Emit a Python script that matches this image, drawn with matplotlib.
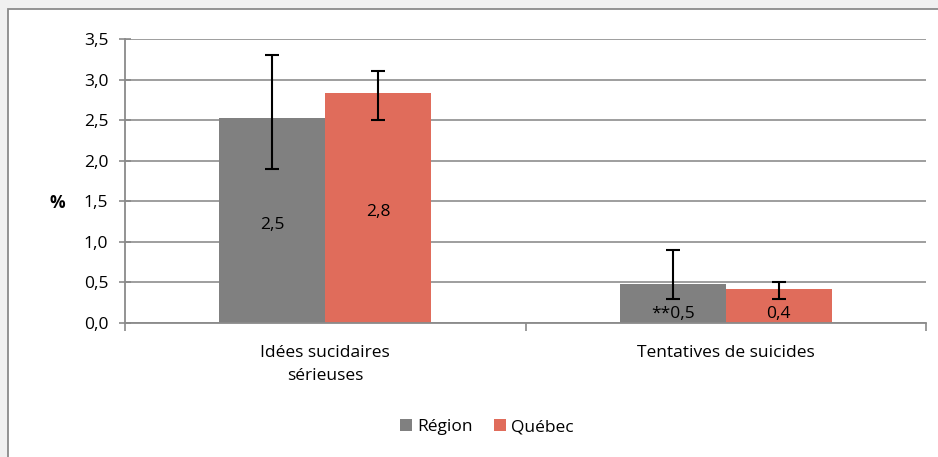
import matplotlib.pyplot as plt
import matplotlib.patches as mpatches
import numpy as np

categories = ["Idées sucidaires\nsérieuses", "Tentatives de suicides"]
series_names = ["Région", "Québec"]
region_vals = [2.53, 0.48]
quebec_vals = [2.84, 0.42]
region_labels = ["2,5", "**0,5"]
quebec_labels = ["2,8", "0,4"]
region_low = [1.9, 0.3]
region_high = [3.3, 0.9]
quebec_low = [2.5, 0.3]
quebec_high = [3.1, 0.5]
yticks = [0.0, 0.5, 1.0, 1.5, 2.0, 2.5, 3.0, 3.5]

colors = ["#808080", "#e06c5b"]
fs = 12.5

plt.rcParams['font.family'] = ['Open Sans', 'DejaVu Sans']

fig = plt.figure(figsize=(9.38, 4.57), dpi=100)
fig.patch.set_facecolor("#f0f0f0")

# outer frame of the chart area
frame = mpatches.Rectangle((8 / 938, -0.1), 1.2, 1.1 - 9 / 457,
                           transform=fig.transFigure, facecolor="white",
                           edgecolor="#8a8a8a", linewidth=1.3, zorder=-5)
fig.patches.append(frame)

ax = fig.add_axes([125 / 938, (457 - 323) / 457, (926 - 125) / 938, (323 - 39) / 457])
ax.set_facecolor("none")
ax.set_zorder(2)

x = np.arange(len(categories)) + 0.5
w = 0.265

def errs(vals, low, high):
    return [np.array(vals) - np.array(low), np.array(high) - np.array(vals)]

def label_y(v):
    # Excel pushes the label down to the bottom for short bars
    return v / 2 - 0.03 if v > 1 else 0.13

ax.bar(x - w / 2, region_vals, w, color=colors[0], label=series_names[0], zorder=2,
       yerr=errs(region_vals, region_low, region_high),
       error_kw=dict(ecolor="black", elinewidth=1.5, capsize=5, capthick=1.5))
ax.bar(x + w / 2, quebec_vals, w, color=colors[1], label=series_names[1], zorder=2,
       yerr=errs(quebec_vals, quebec_low, quebec_high),
       error_kw=dict(ecolor="black", elinewidth=1.5, capsize=5, capthick=1.5))

for i in range(len(categories)):
    ax.text(x[i] - w / 2, label_y(region_vals[i]), region_labels[i],
            ha="center", va="center_baseline", fontsize=fs, zorder=4)
    ax.text(x[i] + w / 2, label_y(quebec_vals[i]), quebec_labels[i],
            ha="center", va="center_baseline", fontsize=fs, zorder=4)

ax.set_xlim(0, len(categories))
ax.set_ylim(0, 3.5)
ax.set_yticks(yticks)
ax.set_yticklabels([f"{v:.1f}".replace(".", ",") for v in yticks], fontsize=fs)
ax.set_xticks(x)
ax.set_xticklabels(categories, fontsize=fs, linespacing=1.6)
ax.set_xticks(np.arange(len(categories) + 1), minor=True)
ax.tick_params(axis="x", which="major", length=0, pad=16)
ax.tick_params(axis="x", which="minor", length=6, color="#8a8a8a", width=1.2)
ax.tick_params(axis="y", length=8, direction="inout", color="#8a8a8a", width=1.2, pad=8)

ax.yaxis.grid(True, color="#969696", linewidth=1.3, zorder=1)
ax.set_axisbelow(True)
for s in ["top", "right"]:
    ax.spines[s].set_visible(False)
for s in ["left", "bottom"]:
    ax.spines[s].set_color("#8a8a8a")
    ax.spines[s].set_linewidth(1.3)

fig.text(57 / 938, (457 - 201) / 457, "%", fontsize=fs, fontweight="bold",
         ha="center", va="center_baseline")

fig.legend(loc="center", bbox_to_anchor=(487 / 938, (457 - 427) / 457), ncol=2,
           frameon=False, fontsize=fs, handlelength=0.7, handleheight=0.7,
           handletextpad=0.3, columnspacing=1.2)

fig.savefig("out.png", dpi=100, facecolor=fig.get_facecolor())
